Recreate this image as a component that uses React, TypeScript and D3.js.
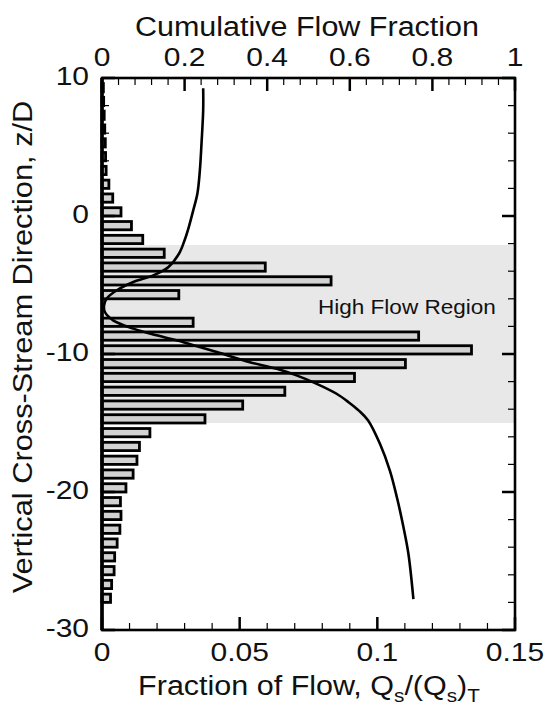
import React from "react";
import * as d3 from "d3";

// ---- Data ----
const barZ: number[] = [
  9.3, 8.3, 7.3, 6.3, 5.3, 4.3, 3.3, 2.3, 1.3, 0.3, -0.7, -1.7, -2.7, -3.7, -4.7,
  -5.7, -6.7, -7.7, -8.7, -9.7, -10.7, -11.7, -12.7, -13.7, -14.7, -15.7, -16.7,
  -17.7, -18.7, -19.7, -20.7, -21.7, -22.7, -23.7, -24.7, -25.7, -26.7, -27.7,
];
const barFraction: number[] = [
  0.0005, 0.0006, 0.0008, 0.001, 0.0012, 0.0013, 0.0015, 0.0025, 0.0039, 0.0069,
  0.0107, 0.0148, 0.0226, 0.0593, 0.0832, 0.0279, 0, 0.0331, 0.115, 0.1342,
  0.1102, 0.0917, 0.0664, 0.0511, 0.0374, 0.0174, 0.0136, 0.0127, 0.0113, 0.0087,
  0.0067, 0.0069, 0.0065, 0.0055, 0.0046, 0.0044, 0.0035, 0.0031,
];

const curveZ: number[] = [
  9.25, 7.68, 5.28, 3.32, 1.63, 0.42, -1.03, -1.76, -2.7, -3.69, -4.3, -4.78,
  -5.38, -5.99, -6.47, -6.96, -7.56, -8.16, -8.65, -9.14, -9.86, -10.59, -11.07,
  -11.55, -12.16, -12.88, -13.49, -14.1, -14.8, -16.51, -18.45, -20.38, -22.56,
  -24.49, -27.76,
];
const curveCum: number[] = [
  0.245, 0.245, 0.241, 0.237, 0.231, 0.221, 0.208, 0.2, 0.187, 0.161, 0.124,
  0.076, 0.036, 0.011, 0.005, 0.007, 0.027, 0.076, 0.132, 0.197, 0.278, 0.358,
  0.423, 0.471, 0.52, 0.568, 0.597, 0.622, 0.644, 0.673, 0.697, 0.714, 0.73,
  0.742, 0.754,
];

const highFlowRegion: number[] = [-2.1, -15];

const leftTicks: number[] = [10, 0, -10, -20, -30];
const bottomTicks: number[] = [0, 0.05, 0.1, 0.15];
const bottomTickLabels: string[] = ["0", "0.05", "0.1", "0.15"];
const topTicks: number[] = [0, 0.2, 0.4, 0.6, 0.8, 1];
const topTickLabels: string[] = ["0", "0.2", "0.4", "0.6", "0.8", "1"];

export default function App() {
  const W = 548;
  const H = 708;
  const L = 102, R = 515, T = 78, B = 630;

  const x = d3.scaleLinear().domain([0, 0.15]).range([L, R]);
  const xTop = d3.scaleLinear().domain([0, 1]).range([L, R]);
  const y = d3.scaleLinear().domain([10, -30]).range([T, B]);

  const barH = 0.6; // in z units
  const font = "'Liberation Sans', Arial, Helvetica, sans-serif";
  const tickScale = 1.2;
  const tickFont = 25;
  const titleFont = 28;
  const titleScale = 1.09;
  const ink = "#111";

  const line = d3
    .line<number>()
    .x((_, i) => xTop(curveCum[i]))
    .y((z) => y(z))
    .curve(d3.curveCatmullRom.alpha(0.5));

  const leftMinor = d3.range(-30, 10.001, 2).filter((v) => Math.abs(v % 10) > 1e-6);
  const bottomMinor = d3.range(0, 0.1501, 0.01).filter((v) => Math.abs((v / 0.05) - Math.round(v / 0.05)) > 1e-6);
  const topMinor = d3.range(0, 1.0001, 0.04).filter((v) => Math.abs((v / 0.2) - Math.round(v / 0.2)) > 1e-6);

  const majorLen = 13;
  const minorLen = 7;

  return (
    <svg
      width={W}
      height={H}
      style={{ position: "absolute", left: 0, top: 0, background: "#fff" }}
      fontFamily={font}
    >
      <rect x={0} y={0} width={W} height={H} fill="#fff" />
      {/* High flow region shading */}
      <rect
        x={L}
        y={y(highFlowRegion[0])}
        width={R - L}
        height={y(highFlowRegion[1]) - y(highFlowRegion[0])}
        fill="#e8e8e8"
      />
      <text
        transform={`translate(318,314) scale(1.1,1)`}
        fontSize={20.5}
        fill={ink}
      >
        High Flow Region
      </text>

      {/* Bars */}
      {barZ.map((z, i) =>
        barFraction[i] > 0 ? (
          <rect
            key={i}
            x={x(0)}
            y={y(z + barH / 2)}
            width={x(barFraction[i]) - x(0)}
            height={y(z - barH / 2) - y(z + barH / 2)}
            fill="#d2d2d2"
            stroke="#000"
            strokeWidth={2.8}
          />
        ) : null
      )}

      {/* Curve */}
      <path d={line(curveZ) || ""} fill="none" stroke="#000" strokeWidth={2.6} />

      {/* Ticks left & right */}
      {leftTicks.map((v) => (
        <g key={"lt" + v}>
          <line x1={L} x2={L + majorLen} y1={y(v)} y2={y(v)} stroke="#000" strokeWidth={2.5} />
          <line x1={R} x2={R - majorLen} y1={y(v)} y2={y(v)} stroke="#000" strokeWidth={2.5} />
        </g>
      ))}
      {leftMinor.map((v) => (
        <g key={"lm" + v}>
          <line x1={L} x2={L + minorLen} y1={y(v)} y2={y(v)} stroke="#000" strokeWidth={1.2} />
          <line x1={R} x2={R - minorLen} y1={y(v)} y2={y(v)} stroke="#000" strokeWidth={1.2} />
        </g>
      ))}
      {/* Bottom ticks */}
      {bottomTicks.map((v) => (
        <line key={"bt" + v} x1={x(v)} x2={x(v)} y1={B} y2={B - majorLen} stroke="#000" strokeWidth={2.5} />
      ))}
      {bottomMinor.map((v) => (
        <line key={"bm" + v} x1={x(v)} x2={x(v)} y1={B} y2={B - minorLen} stroke="#000" strokeWidth={1.2} />
      ))}
      {/* Top ticks */}
      {topTicks.map((v) => (
        <line key={"tt" + v} x1={xTop(v)} x2={xTop(v)} y1={T} y2={T + majorLen} stroke="#000" strokeWidth={2.5} />
      ))}
      {topMinor.map((v) => (
        <line key={"tm" + v} x1={xTop(v)} x2={xTop(v)} y1={T} y2={T + minorLen} stroke="#000" strokeWidth={1.2} />
      ))}

      {/* Frame */}
      <rect x={L} y={T} width={R - L} height={B - T} fill="none" stroke="#000" strokeWidth={2.6} />
      <line x1={L} x2={L} y1={T} y2={B} stroke="#000" strokeWidth={3.6} />

      {/* Left tick labels */}
      {leftTicks.map((v) => (
        <text
          key={"ll" + v}
          transform={`translate(89,${y(v) + 7}) scale(${tickScale},1)`}
          textAnchor="end"
          fontSize={tickFont}
          fill={ink}
        >
          {String(v)}
        </text>
      ))}
      {/* Bottom tick labels */}
      {bottomTicks.map((v, i) => (
        <text
          key={"bl" + v}
          transform={`translate(${x(v)},661) scale(${tickScale},1)`}
          textAnchor="middle"
          fontSize={tickFont}
          fill={ink}
        >
          {bottomTickLabels[i]}
        </text>
      ))}
      {/* Top tick labels */}
      {topTicks.map((v, i) => (
        <text
          key={"tl" + v}
          transform={`translate(${xTop(v)},66) scale(${tickScale},1)`}
          textAnchor="middle"
          fontSize={tickFont}
          fill={ink}
        >
          {topTickLabels[i]}
        </text>
      ))}

      {/* Titles */}
      <text
        transform={`translate(307,36) scale(${titleScale},1)`}
        textAnchor="middle"
        fontSize={titleFont}
        fill={ink}
      >
        Cumulative Flow Fraction
      </text>
      <text
        transform={`translate(309,695) scale(${titleScale},1)`}
        textAnchor="middle"
        fontSize={titleFont}
        fill={ink}
      >
        Fraction of Flow, Q
        <tspan fontSize={19} dy={7}>s</tspan>
        <tspan dy={-7}>/(Q</tspan>
        <tspan fontSize={19} dy={7}>s</tspan>
        <tspan dy={-7}>)</tspan>
        <tspan fontSize={19} dy={7}>T</tspan>
      </text>
      <text
        transform={`translate(32,347) rotate(-90) scale(1.1,1)`}
        textAnchor="middle"
        fontSize={titleFont}
        fill={ink}
      >
        Vertical Cross-Stream Direction, z/D
      </text>
    </svg>
  );
}
